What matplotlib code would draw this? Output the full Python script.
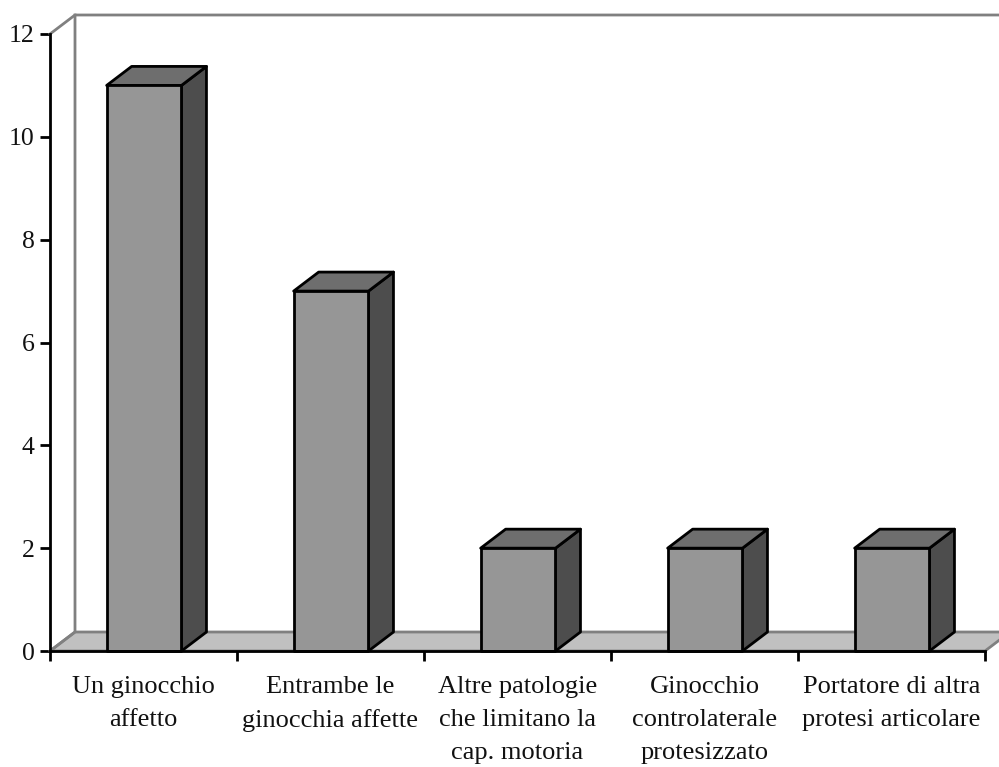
import numpy as np
from matplotlib import pyplot as plt
from matplotlib.patches import Polygon

categorie = ["Un ginocchio\naffetto", "Entrambe le\nginocchia affette",
             "Altre patologie\nche limitano la\ncap. motoria",
             "Ginocchio\ncontrolaterale\nprotesizzato",
             "Portatore di altra\nprotesi articolare"]
valori = [11, 7, 2, 2, 2]
tick_y = [0, 2, 4, 6, 8, 10, 12]

W, H = 999, 767
# profondita' dell'effetto 3D in unita' dati
DX = 25 / 187
DY = 19 / 51.42
LARGHEZZA = 0.40
LW = 2.0

plt.rcParams['font.family'] = ['Liberation Serif', 'DejaVu Serif']

fig = plt.figure(figsize=(W / 100, H / 100), dpi=100)
ax = fig.add_axes([50 / W, (H - 651) / H, 935 / W, 617 / H])
ax.set_xlim(0, 5)
ax.set_ylim(0, 12)
ax.patch.set_visible(False)
for lato in ['top', 'right']:
    ax.spines[lato].set_visible(False)
for lato in ['left', 'bottom']:
    ax.spines[lato].set_linewidth(LW)
    ax.spines[lato].set_zorder(6)


def poli(punti, colore, bordo, lw, z):
    p = Polygon(punti, closed=True, facecolor=colore, edgecolor=bordo,
                linewidth=lw, joinstyle='round', zorder=z, clip_on=False)
    ax.add_patch(p)


# pavimento e pareti
grigio = '#808080'
poli([(0, 0), (DX, DY), (5 + DX, DY), (5, 0)], '#c0c0c0', grigio, LW, 1)
ax.plot([0, DX, DX], [0, DY, 12 + DY], color=grigio, lw=LW, clip_on=False, zorder=2)
ax.plot([0, DX, 5 + DX], [12, 12 + DY, 12 + DY], color=grigio, lw=LW, clip_on=False, zorder=2)

# barre
for i, v in enumerate(valori):
    x0 = i + 0.5 - LARGHEZZA / 2 + 0.003
    x1 = x0 + LARGHEZZA
    poli([(x1, 0), (x1 + DX, DY), (x1 + DX, v + DY), (x1, v)], '#4d4d4d', 'black', LW, 3)
    poli([(x0, v), (x0 + DX, v + DY), (x1 + DX, v + DY), (x1, v)], '#6e6e6e', 'black', LW, 4)
    poli([(x0, 0), (x0, v), (x1, v), (x1, 0)], '#969696', 'black', LW, 5)

ax.set_yticks(tick_y)
ax.set_xticks(np.arange(0, 6))
ax.set_xticklabels([])
ax.set_xticks(np.arange(0.5, 5), minor=True)
ax.set_xticklabels(categorie, minor=True, fontsize=19, linespacing=1.64, color='#111111')
ax.tick_params(axis='x', which='major', length=7.5, width=LW, direction='out')
ax.tick_params(axis='x', which='minor', length=0, pad=18)
ax.tick_params(axis='y', length=7.5, width=LW, labelsize=18.5, pad=3.5, labelcolor='#111111')

fig.savefig('out.png', dpi=100)
